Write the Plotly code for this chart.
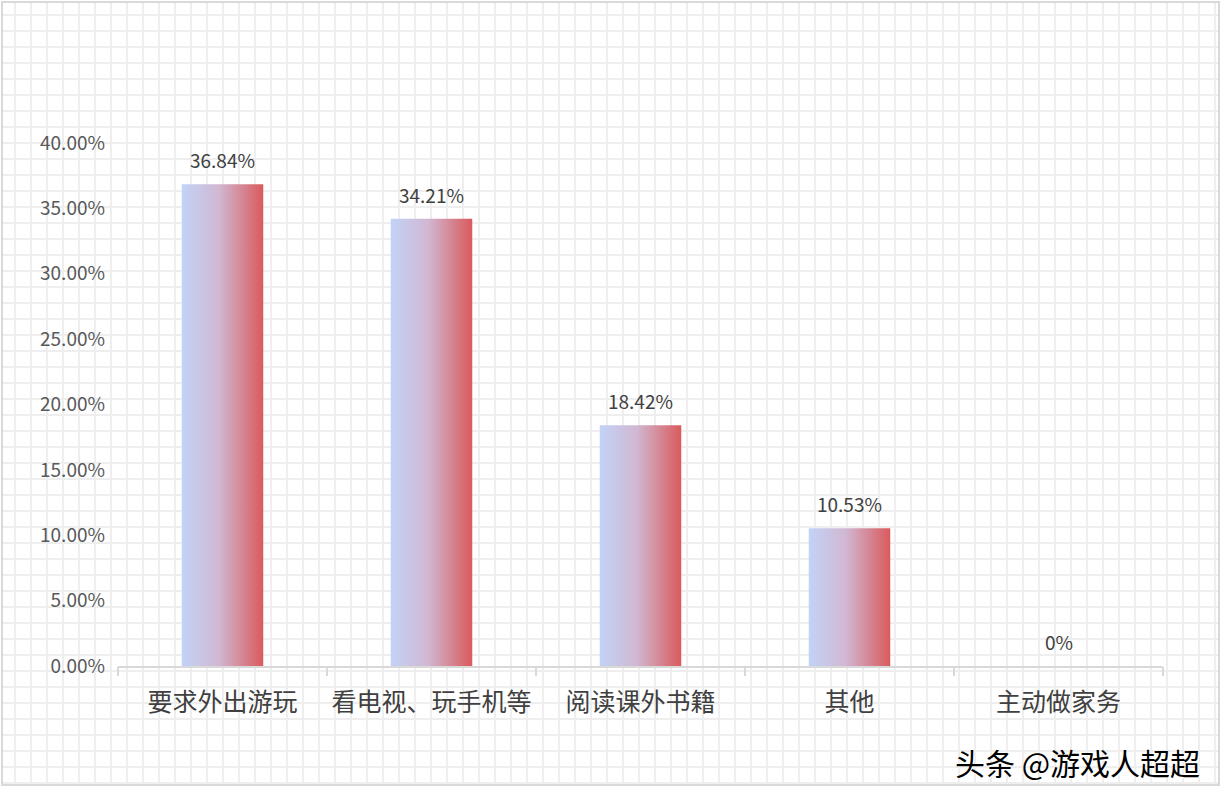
import plotly.graph_objects as go

# data
categories = ['要求外出游玩', '看电视、玩手机等', '阅读课外书籍', '其他', '主动做家务']
values = [36.84, 34.21, 18.42, 10.53, 0]
y_ticks = [0, 5, 10, 15, 20, 25, 30, 35, 40]

W, H = 1225, 801
FONT = 'Noto Sans CJK SC'
BAR_W = 0.39
GRADIENT = [[0, '#c2d3f7'], [0.45, '#d1b8d3'], [1, '#d95a5c']]


def px_x(p):
    return p / W


def px_y(p):
    return 1 - p / H


fig = go.Figure()

# bars drawn as filled polygons so they can carry a horizontal gradient
for i, v in enumerate(values):
    if v <= 0:
        continue
    fig.add_trace(go.Scatter(
        x=[i - BAR_W / 2, i + BAR_W / 2, i + BAR_W / 2, i - BAR_W / 2, i - BAR_W / 2],
        y=[0, 0, v, v, 0],
        mode='lines', line=dict(width=0), fill='toself',
        fillgradient=dict(type='horizontal', colorscale=GRADIENT),
        hoverinfo='skip', showlegend=False))

# data labels
for i, v in enumerate(values):
    fig.add_annotation(x=i, y=v, text=f'{v:.2f}%' if v else '0%', showarrow=False,
                       yanchor='bottom', yshift=9, font=dict(family=FONT, size=19, color='#404040'))

# background grid + border
shapes = [dict(type='rect', xref='paper', yref='paper', x0=px_x(2), x1=px_x(1219), y0=px_y(785), y1=px_y(2),
               line=dict(color='#d9d9d9', width=2), fillcolor='white', layer='below')]
gx = 15
while gx < 1218:
    shapes.append(dict(type='line', xref='paper', yref='paper', x0=px_x(gx), x1=px_x(gx), y0=px_y(784), y1=px_y(3),
                       line=dict(color='#eeeeee', width=2), layer='below'))
    gx += 16
gy = 15
while gy < 784:
    shapes.append(dict(type='line', xref='paper', yref='paper', x0=px_x(3), x1=px_x(1218), y0=px_y(gy), y1=px_y(gy),
                       line=dict(color='#eeeeee', width=2), layer='below'))
    gy += 16

fig.add_annotation(xref='paper', yref='paper', x=px_x(1202), y=px_y(762), xanchor='right', yanchor='middle',
                   text='头条 @游戏人超超', showarrow=False,
                   font=dict(family=FONT, size=30, color='#000000', shadow='1px 1px 1px #ffffff'))

fig.update_layout(
    template='none',
    width=W, height=H,
    margin=dict(l=0, r=0, t=0, b=0, pad=0, autoexpand=False),
    paper_bgcolor='white', plot_bgcolor='rgba(0,0,0,0)',
    shapes=shapes, showlegend=False,
    xaxis=dict(domain=[px_x(118), px_x(1163)], range=[-0.5, len(categories) - 0.5], automargin=False,
               tickvals=list(range(len(categories))), ticktext=categories, showgrid=False, zeroline=False,
               showline=True, linecolor='#d9d9d9', linewidth=2, ticks='', ticklabelstandoff=13,
               tickfont=dict(family=FONT, size=25, color='#404040')),
    xaxis2=dict(overlaying='x', anchor='y', side='bottom', range=[-0.5, len(categories) - 0.5], automargin=False,
                tickvals=[k - 0.5 for k in range(len(categories) + 1)], showticklabels=False,
                ticks='outside', ticklen=9, tickwidth=2, tickcolor='#d9d9d9', showgrid=False, zeroline=False),
    yaxis=dict(domain=[px_y(666), px_y(143)], range=[0, 40], tickvals=y_ticks, automargin=False,
               ticktext=[f'{t:.2f}%' for t in y_ticks],
               showgrid=False, zeroline=False, showline=False, ticklabelstandoff=12,
               tickfont=dict(family=FONT, size=19, color='#595959')),
)
fig.add_trace(go.Scatter(x=[None], y=[None], xaxis='x2', yaxis='y', showlegend=False, hoverinfo='skip'))

# drop the default page margin so the figure sits at the window's corner
fig.write_html('out.html', config={'displayModeBar': False},
               post_script="document.body.style.margin='0px';")
